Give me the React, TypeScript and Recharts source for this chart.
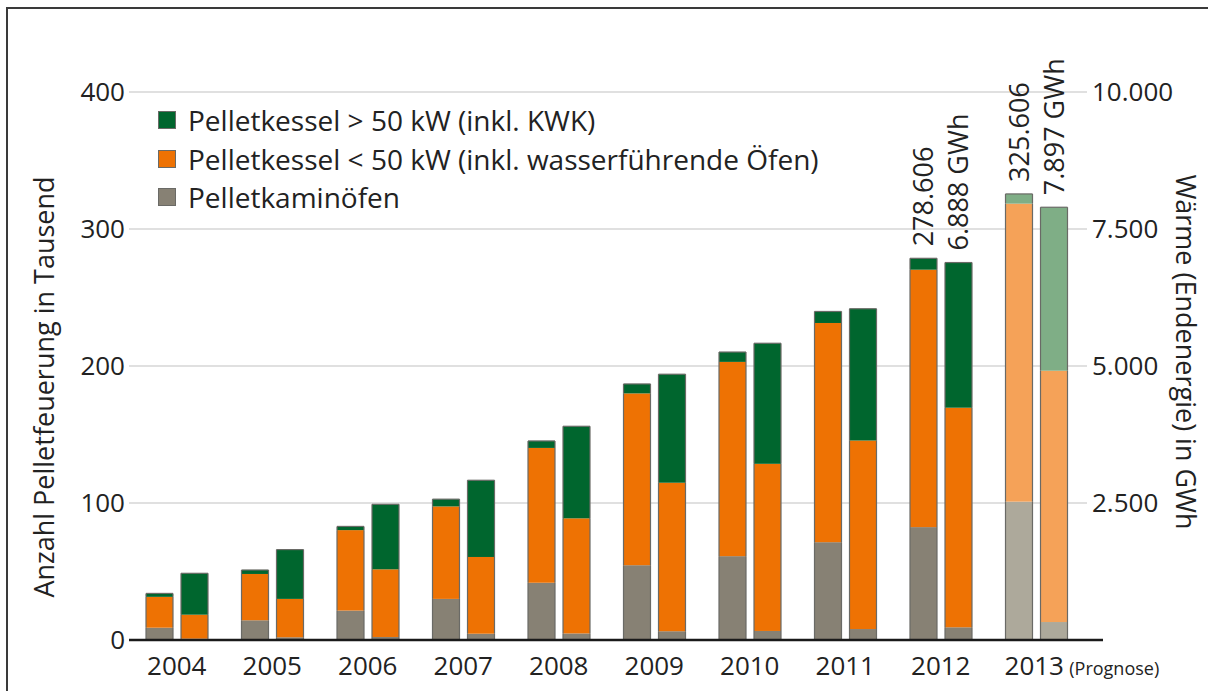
import { Bar, BarChart, CartesianGrid, LabelList, Legend, XAxis, YAxis } from "recharts";

const years = ["2004", "2005", "2006", "2007", "2008", "2009", "2010", "2011", "2012", "2013"];
const prognoseYear = "2013";

// Anzahl in Tausend
const kaminCount = [9, 14.4, 21.5, 30, 41.8, 54.6, 61.2, 71.4, 82.4, 101];
const smallCount = [22.5, 33.8, 58.7, 67.5, 98.4, 125.4, 141.8, 160, 187.9, 217.5];
const largeCount = [2.5, 2.9, 2.7, 5.3, 5.1, 6.9, 7.2, 8.4, 8.3, 7.1];

// Wärme in GWh
const kaminHeat = [25, 50, 55, 115, 120, 160, 165, 200, 232, 328];
const smallHeat = [437, 700, 1235, 1400, 2100, 2710, 3050, 3440, 4007, 4586];
const largeHeat = [755, 900, 1186, 1400, 1680, 1980, 2200, 2405, 2649, 2983];

const countLabels = ["", "", "", "", "", "", "", "", "278.606", "325.606"];
const heatLabels = ["", "", "", "", "", "", "", "", "6.888 GWh", "7.897 GWh"];

const countTicks = [0, 100, 200, 300, 400];
const heatTicks = [0, 2500, 5000, 7500, 10000];

const legendOrder = ["largeCount", "smallCount", "kaminCount"];

const data = years.map((year, i) => ({
  year,
  kaminCount: kaminCount[i],
  smallCount: smallCount[i],
  largeCount: largeCount[i],
  kaminHeat: kaminHeat[i],
  smallHeat: smallHeat[i],
  largeHeat: largeHeat[i],
  countLabel: countLabels[i],
  heatLabel: heatLabels[i],
}));

const C = {
  green: "#00662e",
  orange: "#ee7203",
  gray: "#878174",
  greenLight: "#7fae86",
  orangeLight: "#f5a258",
  grayLight: "#ada99b",
  edge: "#6a6a66",
  ink: "#222222",
  axis: "#1a1a1a",
  grid: "#d6d6d6",
};

const FONT = "'Open Sans', sans-serif";

const fmt = (v: number) => String(v).replace(/\B(?=(\d{3})+(?!\d))/g, ".");

const makeShape = (color: string, light: string, top: boolean) => (p: any) => {
  const { x, y, width, height, payload } = p;
  if (!height || height <= 0) return <g />;
  const fill = payload.year === prognoseYear ? light : color;
  return (
    <g>
      <rect x={x} y={y} width={width} height={height} fill={fill} />
      <line x1={x} x2={x} y1={y} y2={y + height} stroke={C.edge} strokeWidth={1.2} />
      <line x1={x + width} x2={x + width} y1={y} y2={y + height} stroke={C.edge} strokeWidth={1.2} />
      {top && <line x1={x} x2={x + width} y1={y} y2={y} stroke={C.edge} strokeWidth={1.2} />}
    </g>
  );
};

function TotalLabel(props: any) {
  const { x, y, width, value } = props;
  if (!value) return null;
  return (
    <text
      transform={`translate(${x + width / 2 - 1},${y - 12}) rotate(-90)`}
      textAnchor="start"
      dominantBaseline="central"
      fontSize={27}
      fill={C.ink}
      fontFamily={FONT}
    >
      {value}
    </text>
  );
}

function YearTick({ x, y, payload }: any) {
  const prognose = payload.value === prognoseYear;
  return (
    <g fontFamily={FONT} fill={C.ink}>
      <text x={prognose ? x - 2 : x} y={y + 19} textAnchor="middle" fontSize={26}>
        {payload.value}
      </text>
      {prognose && (
        <text x={x + 33} y={y + 19} textAnchor="start" fontSize={18}>
          (Prognose)
        </text>
      )}
    </g>
  );
}

function HeatTick({ x, y, payload }: any) {
  if (payload.value === 0) {
    return <line x1={x - 5} x2={x + 11} y1={y} y2={y} stroke={C.axis} strokeWidth={2.5} />;
  }
  return (
    <text x={x} y={y} dy="0.36em" textAnchor="start" fontSize={26} fill={C.ink} fontFamily={FONT}>
      {fmt(payload.value)}
    </text>
  );
}

function LegendBox({ payload }: any) {
  const items = legendOrder
    .map((key) => (payload ?? []).find((p: any) => p.dataKey === key))
    .filter(Boolean);
  return (
    <div style={{ fontFamily: FONT }}>
      {items.map((p: any) => (
        <div key={p.dataKey} style={{ display: "flex", alignItems: "center", height: 38.5 }}>
          <span
            style={{
              width: 18,
              height: 18,
              background: p.color,
              border: `1px solid ${C.edge}`,
              boxSizing: "border-box",
              marginRight: 12,
              flexShrink: 0,
            }}
          />
          <span style={{ fontSize: 28, color: C.ink, whiteSpace: "nowrap" }}>{p.value}</span>
        </div>
      ))}
    </div>
  );
}

export default function App() {
  return (
    <div
      style={{
        position: "absolute",
        left: 0,
        top: 0,
        width: 1208,
        height: 691,
        background: "#fff",
        fontFamily: FONT,
        overflow: "hidden",
      }}
    >
      <div
        style={{
          position: "absolute",
          left: 6,
          top: 7,
          right: -4,
          bottom: -4,
          borderTop: "2px solid #3a3a3a",
          borderLeft: "2px solid #3a3a3a",
        }}
      />
      <BarChart
        width={1208}
        height={691}
        data={data}
        margin={{ top: 92, right: 0, left: 0, bottom: 0 }}
        barSize={27}
        barGap={8}
        style={{ position: "absolute", left: 0, top: 0 }}
      >
        <CartesianGrid yAxisId="left" vertical={false} stroke={C.grid} strokeWidth={1.6} />
        <XAxis
          dataKey="year"
          height={51}
          interval={0}
          padding={{ left: 0, right: 3 }}
          tickLine={false}
          tickSize={0}
          tickMargin={16}
          axisLine={{ stroke: C.axis, strokeWidth: 2.5 }}
          tick={<YearTick />}
        />
        <YAxis
          yAxisId="left"
          orientation="left"
          width={129}
          domain={[0, 400]}
          ticks={countTicks}
          axisLine={false}
          tickLine={false}
          tickSize={0}
          tickMargin={4}
          tick={{ fontSize: 26, fill: C.ink, fontFamily: FONT }}
          label={(p: any) => {
            const vb = p.viewBox;
            const cx = vb.x + 43;
            const cy = vb.y + vb.height / 2 + 21;
            return (
              <text
                transform={`translate(${cx},${cy}) rotate(-90)`}
                textAnchor="middle"
                dominantBaseline="central"
                fontSize={27}
                fill={C.ink}
                fontFamily={FONT}
              >
                Anzahl Pelletfeuerung in Tausend
              </text>
            );
          }}
        />
        <YAxis
          yAxisId="right"
          orientation="right"
          width={121}
          domain={[0, 10000]}
          ticks={heatTicks}
          axisLine={false}
          tickLine={false}
          tickSize={0}
          tickMargin={5}
          tick={<HeatTick />}
          label={(p: any) => {
            const vb = p.viewBox;
            const cx = vb.x + 99;
            const cy = vb.y + vb.height / 2 - 14;
            return (
              <text
                transform={`translate(${cx},${cy}) rotate(90)`}
                textAnchor="middle"
                dominantBaseline="central"
                fontSize={27}
                fill={C.ink}
                fontFamily={FONT}
              >
                Wärme (Endenergie) in GWh
              </text>
            );
          }}
        />
        <Legend
          layout="vertical"
          align="center"
          verticalAlign="middle"
          content={<LegendBox />}
          wrapperStyle={{ left: 158, top: 101, width: 700, height: 120 }}
        />
        <Bar
          yAxisId="left"
          stackId="count"
          dataKey="kaminCount"
          name="Pelletkaminöfen"
          fill={C.gray}
          shape={makeShape(C.gray, C.grayLight, false)}
          isAnimationActive={false}
        />
        <Bar
          yAxisId="left"
          stackId="count"
          dataKey="smallCount"
          name="Pelletkessel < 50 kW (inkl. wasserführende Öfen)"
          fill={C.orange}
          shape={makeShape(C.orange, C.orangeLight, false)}
          isAnimationActive={false}
        />
        <Bar
          yAxisId="left"
          stackId="count"
          dataKey="largeCount"
          name="Pelletkessel > 50 kW (inkl. KWK)"
          fill={C.green}
          shape={makeShape(C.green, C.greenLight, true)}
          isAnimationActive={false}
        >
          <LabelList dataKey="countLabel" content={<TotalLabel />} />
        </Bar>
        <Bar
          yAxisId="right"
          stackId="heat"
          dataKey="kaminHeat"
          legendType="none"
          fill={C.gray}
          shape={makeShape(C.gray, C.grayLight, false)}
          isAnimationActive={false}
        />
        <Bar
          yAxisId="right"
          stackId="heat"
          dataKey="smallHeat"
          legendType="none"
          fill={C.orange}
          shape={makeShape(C.orange, C.orangeLight, false)}
          isAnimationActive={false}
        />
        <Bar
          yAxisId="right"
          stackId="heat"
          dataKey="largeHeat"
          legendType="none"
          fill={C.green}
          shape={makeShape(C.green, C.greenLight, true)}
          isAnimationActive={false}
        >
          <LabelList dataKey="heatLabel" content={<TotalLabel />} />
        </Bar>
      </BarChart>
    </div>
  );
}
